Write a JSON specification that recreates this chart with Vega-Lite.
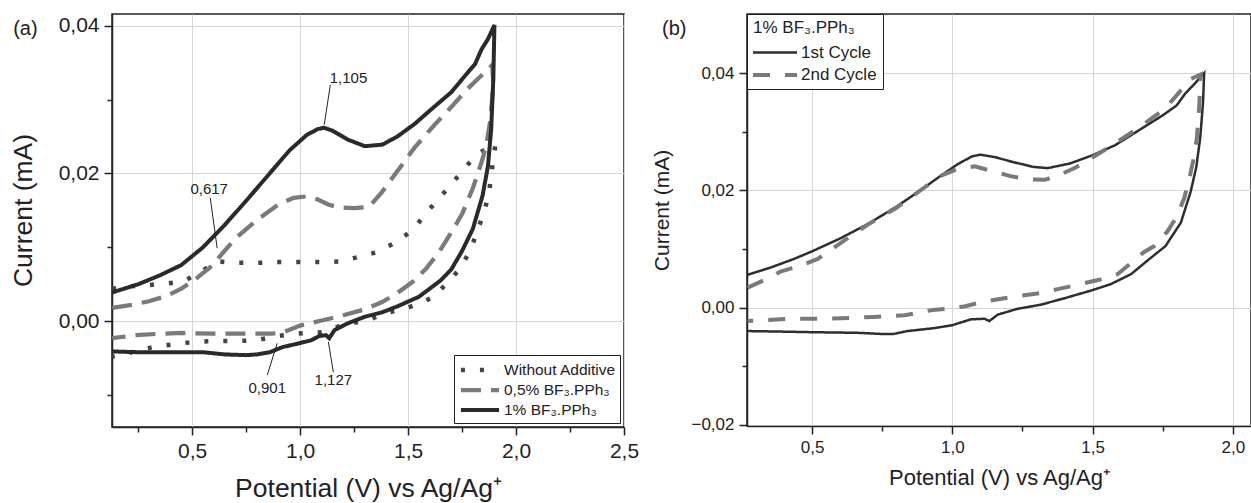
{
  "$schema": "https://vega.github.io/schema/vega-lite/v6.json",
  "padding": {"left": 9, "right": 0, "top": 12, "bottom": 0},
  "spacing": 11,
  "resolve": {
    "scale": {"color": "independent", "strokeDash": "independent", "strokeWidth": "independent"},
    "legend": {"color": "independent", "strokeDash": "independent", "strokeWidth": "independent"}
  },
  "config": {
    "font": "Liberation Sans",
    "view": {"stroke": "#222", "strokeWidth": 1.5},
    "axis": {
      "domainColor": "#222", "domainWidth": 1.5, "tickColor": "#222", "tickWidth": 1.5,
      "gridColor": "#d6d6d6", "gridWidth": 1, "labelColor": "#222", "titleColor": "#222",
      "titleFontWeight": "normal", "labelFlush": false, "labelOverlap": false
    },
    "legend": {"labelFont": "Liberation Sans", "titleFont": "Liberation Sans"}
  },
  "datasets": {
    "a": [
      {"s": "Without Additive", "i": 1, "x": 0.13, "y": 0.0044},
      {"s": "Without Additive", "i": 2, "x": 0.20, "y": 0.0047},
      {"s": "Without Additive", "i": 3, "x": 0.30, "y": 0.0049},
      {"s": "Without Additive", "i": 4, "x": 0.38, "y": 0.0051},
      {"s": "Without Additive", "i": 5, "x": 0.46, "y": 0.0054},
      {"s": "Without Additive", "i": 6, "x": 0.53, "y": 0.0065},
      {"s": "Without Additive", "i": 7, "x": 0.617, "y": 0.0081},
      {"s": "Without Additive", "i": 8, "x": 0.70, "y": 0.0079},
      {"s": "Without Additive", "i": 9, "x": 0.80, "y": 0.0079},
      {"s": "Without Additive", "i": 10, "x": 0.90, "y": 0.0080},
      {"s": "Without Additive", "i": 11, "x": 1.00, "y": 0.0080},
      {"s": "Without Additive", "i": 12, "x": 1.10, "y": 0.0080},
      {"s": "Without Additive", "i": 13, "x": 1.19, "y": 0.0081},
      {"s": "Without Additive", "i": 14, "x": 1.27, "y": 0.0087},
      {"s": "Without Additive", "i": 15, "x": 1.35, "y": 0.0093},
      {"s": "Without Additive", "i": 16, "x": 1.44, "y": 0.0106},
      {"s": "Without Additive", "i": 17, "x": 1.52, "y": 0.0123},
      {"s": "Without Additive", "i": 18, "x": 1.58, "y": 0.0145},
      {"s": "Without Additive", "i": 19, "x": 1.645, "y": 0.0167},
      {"s": "Without Additive", "i": 20, "x": 1.706, "y": 0.0187},
      {"s": "Without Additive", "i": 21, "x": 1.766, "y": 0.0209},
      {"s": "Without Additive", "i": 22, "x": 1.83, "y": 0.0228},
      {"s": "Without Additive", "i": 23, "x": 1.905, "y": 0.0240},
      {"s": "Without Additive", "i": 24, "x": 1.89, "y": 0.0209},
      {"s": "Without Additive", "i": 25, "x": 1.877, "y": 0.0178},
      {"s": "Without Additive", "i": 26, "x": 1.855, "y": 0.0150},
      {"s": "Without Additive", "i": 27, "x": 1.822, "y": 0.0123},
      {"s": "Without Additive", "i": 28, "x": 1.79, "y": 0.0097},
      {"s": "Without Additive", "i": 29, "x": 1.743, "y": 0.0072},
      {"s": "Without Additive", "i": 30, "x": 1.683, "y": 0.0052},
      {"s": "Without Additive", "i": 31, "x": 1.613, "y": 0.0032},
      {"s": "Without Additive", "i": 32, "x": 1.56, "y": 0.0025},
      {"s": "Without Additive", "i": 33, "x": 1.497, "y": 0.0018},
      {"s": "Without Additive", "i": 34, "x": 1.40, "y": 0.0011},
      {"s": "Without Additive", "i": 35, "x": 1.29, "y": -0.0001},
      {"s": "Without Additive", "i": 36, "x": 1.23, "y": -0.0002},
      {"s": "Without Additive", "i": 37, "x": 1.10, "y": -0.0015},
      {"s": "Without Additive", "i": 38, "x": 0.98, "y": -0.0017},
      {"s": "Without Additive", "i": 39, "x": 0.901, "y": -0.0020},
      {"s": "Without Additive", "i": 40, "x": 0.79, "y": -0.0026},
      {"s": "Without Additive", "i": 41, "x": 0.70, "y": -0.0027},
      {"s": "Without Additive", "i": 42, "x": 0.60, "y": -0.0027},
      {"s": "Without Additive", "i": 43, "x": 0.51, "y": -0.0028},
      {"s": "Without Additive", "i": 44, "x": 0.42, "y": -0.0031},
      {"s": "Without Additive", "i": 45, "x": 0.32, "y": -0.0035},
      {"s": "Without Additive", "i": 46, "x": 0.22, "y": -0.0042},
      {"s": "Without Additive", "i": 47, "x": 0.13, "y": -0.0048},

      {"s": "0,5% BF₃.PPh₃", "i": 1, "x": 0.13, "y": 0.0018},
      {"s": "0,5% BF₃.PPh₃", "i": 2, "x": 0.22, "y": 0.0022},
      {"s": "0,5% BF₃.PPh₃", "i": 3, "x": 0.30, "y": 0.0027},
      {"s": "0,5% BF₃.PPh₃", "i": 4, "x": 0.38, "y": 0.0034},
      {"s": "0,5% BF₃.PPh₃", "i": 5, "x": 0.45, "y": 0.0044},
      {"s": "0,5% BF₃.PPh₃", "i": 6, "x": 0.52, "y": 0.0058},
      {"s": "0,5% BF₃.PPh₃", "i": 7, "x": 0.58, "y": 0.0072},
      {"s": "0,5% BF₃.PPh₃", "i": 8, "x": 0.62, "y": 0.0085},
      {"s": "0,5% BF₃.PPh₃", "i": 9, "x": 0.70, "y": 0.0112},
      {"s": "0,5% BF₃.PPh₃", "i": 10, "x": 0.80, "y": 0.0137},
      {"s": "0,5% BF₃.PPh₃", "i": 11, "x": 0.90, "y": 0.0158},
      {"s": "0,5% BF₃.PPh₃", "i": 12, "x": 0.97, "y": 0.0167},
      {"s": "0,5% BF₃.PPh₃", "i": 13, "x": 1.03, "y": 0.0169},
      {"s": "0,5% BF₃.PPh₃", "i": 14, "x": 1.08, "y": 0.0165},
      {"s": "0,5% BF₃.PPh₃", "i": 15, "x": 1.13, "y": 0.0158},
      {"s": "0,5% BF₃.PPh₃", "i": 16, "x": 1.18, "y": 0.0154},
      {"s": "0,5% BF₃.PPh₃", "i": 17, "x": 1.25, "y": 0.0153},
      {"s": "0,5% BF₃.PPh₃", "i": 18, "x": 1.32, "y": 0.0155},
      {"s": "0,5% BF₃.PPh₃", "i": 19, "x": 1.38, "y": 0.0175},
      {"s": "0,5% BF₃.PPh₃", "i": 20, "x": 1.45, "y": 0.0203},
      {"s": "0,5% BF₃.PPh₃", "i": 21, "x": 1.53, "y": 0.0235},
      {"s": "0,5% BF₃.PPh₃", "i": 22, "x": 1.62, "y": 0.0265},
      {"s": "0,5% BF₃.PPh₃", "i": 23, "x": 1.70, "y": 0.0290},
      {"s": "0,5% BF₃.PPh₃", "i": 24, "x": 1.77, "y": 0.0313},
      {"s": "0,5% BF₃.PPh₃", "i": 25, "x": 1.83, "y": 0.0330},
      {"s": "0,5% BF₃.PPh₃", "i": 26, "x": 1.89, "y": 0.0347},
      {"s": "0,5% BF₃.PPh₃", "i": 27, "x": 1.895, "y": 0.0320},
      {"s": "0,5% BF₃.PPh₃", "i": 28, "x": 1.88, "y": 0.0270},
      {"s": "0,5% BF₃.PPh₃", "i": 29, "x": 1.86, "y": 0.0235},
      {"s": "0,5% BF₃.PPh₃", "i": 30, "x": 1.84, "y": 0.0215},
      {"s": "0,5% BF₃.PPh₃", "i": 31, "x": 1.80, "y": 0.0180},
      {"s": "0,5% BF₃.PPh₃", "i": 32, "x": 1.75, "y": 0.0145},
      {"s": "0,5% BF₃.PPh₃", "i": 33, "x": 1.70, "y": 0.0120},
      {"s": "0,5% BF₃.PPh₃", "i": 34, "x": 1.64, "y": 0.0092},
      {"s": "0,5% BF₃.PPh₃", "i": 35, "x": 1.58, "y": 0.0070},
      {"s": "0,5% BF₃.PPh₃", "i": 36, "x": 1.52, "y": 0.0053},
      {"s": "0,5% BF₃.PPh₃", "i": 37, "x": 1.45, "y": 0.0038},
      {"s": "0,5% BF₃.PPh₃", "i": 38, "x": 1.38, "y": 0.0026},
      {"s": "0,5% BF₃.PPh₃", "i": 39, "x": 1.30, "y": 0.0016},
      {"s": "0,5% BF₃.PPh₃", "i": 40, "x": 1.20, "y": 0.0008},
      {"s": "0,5% BF₃.PPh₃", "i": 41, "x": 1.10, "y": 0.0001},
      {"s": "0,5% BF₃.PPh₃", "i": 42, "x": 1.00, "y": -0.0006},
      {"s": "0,5% BF₃.PPh₃", "i": 43, "x": 0.93, "y": -0.0014},
      {"s": "0,5% BF₃.PPh₃", "i": 44, "x": 0.87, "y": -0.0017},
      {"s": "0,5% BF₃.PPh₃", "i": 45, "x": 0.75, "y": -0.0017},
      {"s": "0,5% BF₃.PPh₃", "i": 46, "x": 0.60, "y": -0.0017},
      {"s": "0,5% BF₃.PPh₃", "i": 47, "x": 0.45, "y": -0.0016},
      {"s": "0,5% BF₃.PPh₃", "i": 48, "x": 0.35, "y": -0.0017},
      {"s": "0,5% BF₃.PPh₃", "i": 49, "x": 0.24, "y": -0.0019},
      {"s": "0,5% BF₃.PPh₃", "i": 50, "x": 0.13, "y": -0.0023},

      {"s": "1% BF₃.PPh₃", "i": 1, "x": 0.13, "y": 0.0039},
      {"s": "1% BF₃.PPh₃", "i": 2, "x": 0.25, "y": 0.0050},
      {"s": "1% BF₃.PPh₃", "i": 3, "x": 0.35, "y": 0.0062},
      {"s": "1% BF₃.PPh₃", "i": 4, "x": 0.45, "y": 0.0076},
      {"s": "1% BF₃.PPh₃", "i": 5, "x": 0.55, "y": 0.0100},
      {"s": "1% BF₃.PPh₃", "i": 6, "x": 0.65, "y": 0.0130},
      {"s": "1% BF₃.PPh₃", "i": 7, "x": 0.75, "y": 0.0163},
      {"s": "1% BF₃.PPh₃", "i": 8, "x": 0.85, "y": 0.0197},
      {"s": "1% BF₃.PPh₃", "i": 9, "x": 0.95, "y": 0.0231},
      {"s": "1% BF₃.PPh₃", "i": 10, "x": 1.03, "y": 0.0252},
      {"s": "1% BF₃.PPh₃", "i": 11, "x": 1.08, "y": 0.0260},
      {"s": "1% BF₃.PPh₃", "i": 12, "x": 1.11, "y": 0.0262},
      {"s": "1% BF₃.PPh₃", "i": 13, "x": 1.15, "y": 0.0258},
      {"s": "1% BF₃.PPh₃", "i": 14, "x": 1.22, "y": 0.0246},
      {"s": "1% BF₃.PPh₃", "i": 15, "x": 1.30, "y": 0.0237},
      {"s": "1% BF₃.PPh₃", "i": 16, "x": 1.38, "y": 0.0239},
      {"s": "1% BF₃.PPh₃", "i": 17, "x": 1.45, "y": 0.0250},
      {"s": "1% BF₃.PPh₃", "i": 18, "x": 1.53, "y": 0.0267},
      {"s": "1% BF₃.PPh₃", "i": 19, "x": 1.60, "y": 0.0285},
      {"s": "1% BF₃.PPh₃", "i": 20, "x": 1.70, "y": 0.0310},
      {"s": "1% BF₃.PPh₃", "i": 21, "x": 1.78, "y": 0.0338},
      {"s": "1% BF₃.PPh₃", "i": 22, "x": 1.81, "y": 0.0348},
      {"s": "1% BF₃.PPh₃", "i": 23, "x": 1.84, "y": 0.0368},
      {"s": "1% BF₃.PPh₃", "i": 24, "x": 1.87, "y": 0.0382},
      {"s": "1% BF₃.PPh₃", "i": 25, "x": 1.90, "y": 0.0401},
      {"s": "1% BF₃.PPh₃", "i": 26, "x": 1.895, "y": 0.0330},
      {"s": "1% BF₃.PPh₃", "i": 27, "x": 1.885, "y": 0.0260},
      {"s": "1% BF₃.PPh₃", "i": 28, "x": 1.87, "y": 0.0210},
      {"s": "1% BF₃.PPh₃", "i": 29, "x": 1.845, "y": 0.0170},
      {"s": "1% BF₃.PPh₃", "i": 30, "x": 1.80, "y": 0.0125},
      {"s": "1% BF₃.PPh₃", "i": 31, "x": 1.75, "y": 0.0095},
      {"s": "1% BF₃.PPh₃", "i": 32, "x": 1.70, "y": 0.0070},
      {"s": "1% BF₃.PPh₃", "i": 33, "x": 1.65, "y": 0.0055},
      {"s": "1% BF₃.PPh₃", "i": 34, "x": 1.55, "y": 0.0033},
      {"s": "1% BF₃.PPh₃", "i": 35, "x": 1.45, "y": 0.0020},
      {"s": "1% BF₃.PPh₃", "i": 36, "x": 1.38, "y": 0.0012},
      {"s": "1% BF₃.PPh₃", "i": 37, "x": 1.30, "y": 0.0006},
      {"s": "1% BF₃.PPh₃", "i": 38, "x": 1.22, "y": -0.0003},
      {"s": "1% BF₃.PPh₃", "i": 39, "x": 1.16, "y": -0.0012},
      {"s": "1% BF₃.PPh₃", "i": 40, "x": 1.135, "y": -0.0023},
      {"s": "1% BF₃.PPh₃", "i": 41, "x": 1.12, "y": -0.0019},
      {"s": "1% BF₃.PPh₃", "i": 42, "x": 1.09, "y": -0.0020},
      {"s": "1% BF₃.PPh₃", "i": 43, "x": 1.05, "y": -0.0026},
      {"s": "1% BF₃.PPh₃", "i": 44, "x": 0.98, "y": -0.0031},
      {"s": "1% BF₃.PPh₃", "i": 45, "x": 0.92, "y": -0.0035},
      {"s": "1% BF₃.PPh₃", "i": 46, "x": 0.86, "y": -0.0042},
      {"s": "1% BF₃.PPh₃", "i": 47, "x": 0.80, "y": -0.0045},
      {"s": "1% BF₃.PPh₃", "i": 48, "x": 0.75, "y": -0.0046},
      {"s": "1% BF₃.PPh₃", "i": 49, "x": 0.65, "y": -0.0045},
      {"s": "1% BF₃.PPh₃", "i": 50, "x": 0.55, "y": -0.0042},
      {"s": "1% BF₃.PPh₃", "i": 51, "x": 0.45, "y": -0.0042},
      {"s": "1% BF₃.PPh₃", "i": 52, "x": 0.35, "y": -0.0042},
      {"s": "1% BF₃.PPh₃", "i": 53, "x": 0.25, "y": -0.0042},
      {"s": "1% BF₃.PPh₃", "i": 54, "x": 0.13, "y": -0.0041}
    ],
    "notes": [
      {"label": "1,105", "x": 1.224, "y": 0.0330, "x1": 1.112, "y1": 0.0266, "x2": 1.140, "y2": 0.0320},
      {"label": "0,617", "x": 0.579, "y": 0.0179, "x1": 0.616, "y1": 0.0099, "x2": 0.584, "y2": 0.0167},
      {"label": "0,901", "x": 0.848, "y": -0.0090, "x1": 0.894, "y1": -0.0030, "x2": 0.848, "y2": -0.0073},
      {"label": "1,127", "x": 1.154, "y": -0.0080, "x1": 1.131, "y1": -0.0028, "x2": 1.154, "y2": -0.0069}
    ],
    "b": [
      {"s": "1st Cycle", "i": 1, "x": 0.27, "y": 0.0056},
      {"s": "1st Cycle", "i": 2, "x": 0.35, "y": 0.0068},
      {"s": "1st Cycle", "i": 3, "x": 0.43, "y": 0.0082},
      {"s": "1st Cycle", "i": 4, "x": 0.50, "y": 0.0096},
      {"s": "1st Cycle", "i": 5, "x": 0.60, "y": 0.0118},
      {"s": "1st Cycle", "i": 6, "x": 0.70, "y": 0.0143},
      {"s": "1st Cycle", "i": 7, "x": 0.80, "y": 0.0172},
      {"s": "1st Cycle", "i": 8, "x": 0.88, "y": 0.0198},
      {"s": "1st Cycle", "i": 9, "x": 0.95, "y": 0.0222},
      {"s": "1st Cycle", "i": 10, "x": 1.02, "y": 0.0245},
      {"s": "1st Cycle", "i": 11, "x": 1.07, "y": 0.0258},
      {"s": "1st Cycle", "i": 12, "x": 1.10, "y": 0.0261},
      {"s": "1st Cycle", "i": 13, "x": 1.15, "y": 0.0257},
      {"s": "1st Cycle", "i": 14, "x": 1.22, "y": 0.0248},
      {"s": "1st Cycle", "i": 15, "x": 1.29, "y": 0.0240},
      {"s": "1st Cycle", "i": 16, "x": 1.34, "y": 0.0238},
      {"s": "1st Cycle", "i": 17, "x": 1.42, "y": 0.0246},
      {"s": "1st Cycle", "i": 18, "x": 1.50, "y": 0.0260},
      {"s": "1st Cycle", "i": 19, "x": 1.58, "y": 0.0277},
      {"s": "1st Cycle", "i": 20, "x": 1.65, "y": 0.0298},
      {"s": "1st Cycle", "i": 21, "x": 1.75, "y": 0.0328},
      {"s": "1st Cycle", "i": 22, "x": 1.80, "y": 0.0345},
      {"s": "1st Cycle", "i": 23, "x": 1.83, "y": 0.0365},
      {"s": "1st Cycle", "i": 24, "x": 1.86, "y": 0.0380},
      {"s": "1st Cycle", "i": 25, "x": 1.898, "y": 0.0400},
      {"s": "1st Cycle", "i": 26, "x": 1.894, "y": 0.0350},
      {"s": "1st Cycle", "i": 27, "x": 1.884, "y": 0.0290},
      {"s": "1st Cycle", "i": 28, "x": 1.87, "y": 0.0240},
      {"s": "1st Cycle", "i": 29, "x": 1.85, "y": 0.0198},
      {"s": "1st Cycle", "i": 30, "x": 1.815, "y": 0.0145},
      {"s": "1st Cycle", "i": 31, "x": 1.76, "y": 0.0105},
      {"s": "1st Cycle", "i": 32, "x": 1.708, "y": 0.0085},
      {"s": "1st Cycle", "i": 33, "x": 1.637, "y": 0.0057},
      {"s": "1st Cycle", "i": 34, "x": 1.565, "y": 0.0040},
      {"s": "1st Cycle", "i": 35, "x": 1.494, "y": 0.0029},
      {"s": "1st Cycle", "i": 36, "x": 1.40, "y": 0.0016},
      {"s": "1st Cycle", "i": 37, "x": 1.316, "y": 0.0005},
      {"s": "1st Cycle", "i": 38, "x": 1.233, "y": -0.0002},
      {"s": "1st Cycle", "i": 39, "x": 1.162, "y": -0.0012},
      {"s": "1st Cycle", "i": 40, "x": 1.132, "y": -0.0023},
      {"s": "1st Cycle", "i": 41, "x": 1.115, "y": -0.0019},
      {"s": "1st Cycle", "i": 42, "x": 1.066, "y": -0.0020},
      {"s": "1st Cycle", "i": 43, "x": 1.00, "y": -0.0030},
      {"s": "1st Cycle", "i": 44, "x": 0.936, "y": -0.0035},
      {"s": "1st Cycle", "i": 45, "x": 0.84, "y": -0.0040},
      {"s": "1st Cycle", "i": 46, "x": 0.79, "y": -0.0045},
      {"s": "1st Cycle", "i": 47, "x": 0.75, "y": -0.0045},
      {"s": "1st Cycle", "i": 48, "x": 0.663, "y": -0.0043},
      {"s": "1st Cycle", "i": 49, "x": 0.508, "y": -0.0042},
      {"s": "1st Cycle", "i": 50, "x": 0.40, "y": -0.0041},
      {"s": "1st Cycle", "i": 51, "x": 0.27, "y": -0.0040},

      {"s": "2nd Cycle", "i": 1, "x": 0.27, "y": 0.0034},
      {"s": "2nd Cycle", "i": 2, "x": 0.33, "y": 0.0047},
      {"s": "2nd Cycle", "i": 3, "x": 0.39, "y": 0.0062},
      {"s": "2nd Cycle", "i": 4, "x": 0.45, "y": 0.0070},
      {"s": "2nd Cycle", "i": 5, "x": 0.52, "y": 0.0083},
      {"s": "2nd Cycle", "i": 6, "x": 0.61, "y": 0.0113},
      {"s": "2nd Cycle", "i": 7, "x": 0.70, "y": 0.0142},
      {"s": "2nd Cycle", "i": 8, "x": 0.80, "y": 0.0170},
      {"s": "2nd Cycle", "i": 9, "x": 0.88, "y": 0.0198},
      {"s": "2nd Cycle", "i": 10, "x": 0.96, "y": 0.0225},
      {"s": "2nd Cycle", "i": 11, "x": 1.02, "y": 0.0237},
      {"s": "2nd Cycle", "i": 12, "x": 1.08, "y": 0.0241},
      {"s": "2nd Cycle", "i": 13, "x": 1.15, "y": 0.0232},
      {"s": "2nd Cycle", "i": 14, "x": 1.21, "y": 0.0224},
      {"s": "2nd Cycle", "i": 15, "x": 1.27, "y": 0.0219},
      {"s": "2nd Cycle", "i": 16, "x": 1.33, "y": 0.0218},
      {"s": "2nd Cycle", "i": 17, "x": 1.38, "y": 0.0226},
      {"s": "2nd Cycle", "i": 18, "x": 1.44, "y": 0.0239},
      {"s": "2nd Cycle", "i": 19, "x": 1.54, "y": 0.0268},
      {"s": "2nd Cycle", "i": 20, "x": 1.66, "y": 0.0305},
      {"s": "2nd Cycle", "i": 21, "x": 1.76, "y": 0.0340},
      {"s": "2nd Cycle", "i": 22, "x": 1.81, "y": 0.0368},
      {"s": "2nd Cycle", "i": 23, "x": 1.85, "y": 0.0390},
      {"s": "2nd Cycle", "i": 24, "x": 1.886, "y": 0.0398},
      {"s": "2nd Cycle", "i": 25, "x": 1.880, "y": 0.0340},
      {"s": "2nd Cycle", "i": 26, "x": 1.872, "y": 0.0290},
      {"s": "2nd Cycle", "i": 27, "x": 1.863, "y": 0.0260},
      {"s": "2nd Cycle", "i": 28, "x": 1.845, "y": 0.0220},
      {"s": "2nd Cycle", "i": 29, "x": 1.827, "y": 0.0187},
      {"s": "2nd Cycle", "i": 30, "x": 1.80, "y": 0.0155},
      {"s": "2nd Cycle", "i": 31, "x": 1.767, "y": 0.0130},
      {"s": "2nd Cycle", "i": 32, "x": 1.72, "y": 0.0105},
      {"s": "2nd Cycle", "i": 33, "x": 1.684, "y": 0.0095},
      {"s": "2nd Cycle", "i": 34, "x": 1.63, "y": 0.0073},
      {"s": "2nd Cycle", "i": 35, "x": 1.589, "y": 0.0057},
      {"s": "2nd Cycle", "i": 36, "x": 1.52, "y": 0.0047},
      {"s": "2nd Cycle", "i": 37, "x": 1.447, "y": 0.0039},
      {"s": "2nd Cycle", "i": 38, "x": 1.38, "y": 0.0032},
      {"s": "2nd Cycle", "i": 39, "x": 1.316, "y": 0.0025},
      {"s": "2nd Cycle", "i": 40, "x": 1.197, "y": 0.0017},
      {"s": "2nd Cycle", "i": 41, "x": 1.10, "y": 0.0009},
      {"s": "2nd Cycle", "i": 42, "x": 1.043, "y": 0.0002},
      {"s": "2nd Cycle", "i": 43, "x": 0.98, "y": -0.0002},
      {"s": "2nd Cycle", "i": 44, "x": 0.93, "y": -0.0004},
      {"s": "2nd Cycle", "i": 45, "x": 0.83, "y": -0.0013},
      {"s": "2nd Cycle", "i": 46, "x": 0.72, "y": -0.0016},
      {"s": "2nd Cycle", "i": 47, "x": 0.556, "y": -0.0019},
      {"s": "2nd Cycle", "i": 48, "x": 0.425, "y": -0.0019},
      {"s": "2nd Cycle", "i": 49, "x": 0.27, "y": -0.0023}
    ]
  },
  "hconcat": [
    {
      "width": 512,
      "height": 413,
      "title": {"text": "(a)", "anchor": "start", "frame": "bounds", "offset": -25, "dx": 3, "fontSize": 20, "fontWeight": "normal", "color": "#222", "font": "Liberation Sans"},
      "layer": [
        {
          "data": {"name": "a"},
          "mark": {"type": "line", "clip": true},
          "encoding": {
            "x": {
              "field": "x", "type": "quantitative",
              "scale": {"domain": [0.129, 2.5], "nice": false, "zero": false},
              "axis": {
                "title": "Potential (V) vs Ag/Ag⁺", "titleFontSize": 26.5, "titlePadding": 14,
                "labelFontSize": 21, "labelPadding": 5,
                "values": [0.25, 0.5, 0.75, 1, 1.25, 1.5, 1.75, 2, 2.25, 2.5],
                "labelExpr": "round(datum.value*100) % 50 == 0 ? replace(format(datum.value, '.1f'), '.', ',') : ''",
                "tickSize": {"condition": {"test": "round(datum.value*100) % 50 != 0", "value": 5}, "value": 8},
                "gridOpacity": {"condition": {"test": "round(datum.value*100) % 50 != 0", "value": 0}, "value": 1}
              }
            },
            "y": {
              "field": "y", "type": "quantitative",
              "scale": {"domain": [-0.01433, 0.0416], "nice": false, "zero": false},
              "axis": {
                "title": "Current (mA)", "titleFontSize": 26.5, "titlePadding": 21, "titleY": 196,
                "labelFontSize": 21, "labelPadding": 5,
                "values": [-0.01, 0, 0.01, 0.02, 0.03, 0.04],
                "labelExpr": "round(datum.value*1000) % 20 == 0 ? replace(format(datum.value, '.2f'), '.', ',') : ''",
                "tickSize": {"condition": {"test": "round(datum.value*1000) % 20 != 0", "value": 5}, "value": 8},
                "gridOpacity": {"condition": {"test": "round(datum.value*1000) % 20 != 0", "value": 0}, "value": 1}
              }
            },
            "order": {"field": "i", "type": "quantitative"},
            "color": {
              "field": "s", "type": "nominal",
              "scale": {"domain": ["Without Additive", "0,5% BF₃.PPh₃", "1% BF₃.PPh₃"], "range": ["#444444", "#7a7a7a", "#2a2a2a"]},
              "legend": {
                "title": null, "orient": "bottom-right", "offset": 4, "symbolType": "M-2.2,0H2.2", "symbolSize": 300,
                "symbolOffset": 11, "labelOffset": 13,
                "labelFontSize": 15.5, "labelColor": "#222", "strokeColor": "#222", "fillColor": "white",
                "padding": 4, "rowPadding": 0
              }
            },
            "strokeDash": {
              "field": "s", "type": "nominal",
              "scale": {"domain": ["Without Additive", "0,5% BF₃.PPh₃", "1% BF₃.PPh₃"], "range": [[4, 15], [20, 10], [1, 0]]},
              "legend": {
                "title": null, "orient": "bottom-right", "offset": 4, "symbolType": "M-2.2,0H2.2", "symbolSize": 300,
                "symbolOffset": 11, "labelOffset": 13,
                "labelFontSize": 15.5, "labelColor": "#222", "strokeColor": "#222", "fillColor": "white",
                "padding": 4, "rowPadding": 0
              }
            },
            "strokeWidth": {
              "field": "s", "type": "nominal",
              "scale": {"domain": ["Without Additive", "0,5% BF₃.PPh₃", "1% BF₃.PPh₃"], "range": [4.5, 4, 3.5]},
              "legend": {
                "title": null, "orient": "bottom-right", "offset": 4, "symbolType": "M-2.2,0H2.2", "symbolSize": 300,
                "symbolOffset": 11, "labelOffset": 13,
                "labelFontSize": 15.5, "labelColor": "#222", "strokeColor": "#222", "fillColor": "white",
                "padding": 4, "rowPadding": 0
              }
            }
          }
        },
        {
          "data": {"name": "notes"},
          "mark": {"type": "rule", "color": "#222", "strokeWidth": 1},
          "encoding": {
            "x": {"field": "x1", "type": "quantitative"},
            "y": {"field": "y1", "type": "quantitative"},
            "x2": {"field": "x2"},
            "y2": {"field": "y2"}
          }
        },
        {
          "data": {"name": "notes"},
          "mark": {"type": "text", "fontSize": 15, "color": "#222", "font": "Liberation Sans"},
          "encoding": {
            "x": {"field": "x", "type": "quantitative"},
            "y": {"field": "y", "type": "quantitative"},
            "text": {"field": "label"}
          }
        }
      ]
    },
    {
      "width": 504,
      "height": 412,
      "title": {"text": "(b)", "anchor": "start", "frame": "bounds", "offset": -25, "dx": 10, "fontSize": 20, "fontWeight": "normal", "color": "#222", "font": "Liberation Sans"},
      "data": {"name": "b"},
      "mark": {"type": "line", "clip": true},
      "encoding": {
        "x": {
          "field": "x", "type": "quantitative",
          "scale": {"domain": [0.268, 2.065], "nice": false, "zero": false},
          "axis": {
            "title": "Potential (V) vs Ag/Ag⁺", "titleFontSize": 22, "titlePadding": 12,
            "labelFontSize": 17, "labelPadding": 5,
            "values": [0.5, 0.75, 1, 1.25, 1.5, 1.75, 2],
            "labelExpr": "round(datum.value*100) % 50 == 0 ? replace(format(datum.value, '.1f'), '.', ',') : ''",
            "tickSize": {"condition": {"test": "round(datum.value*100) % 50 != 0", "value": 5}, "value": 8},
            "gridOpacity": {"condition": {"test": "round(datum.value*100) % 50 != 0", "value": 0}, "value": 1}
          }
        },
        "y": {
          "field": "y", "type": "quantitative",
          "scale": {"domain": [-0.0202, 0.0501], "nice": false, "zero": false},
          "axis": {
            "title": "Current (mA)", "titleFontSize": 21, "titlePadding": 18, "titleY": 196,
            "labelFontSize": 17, "labelPadding": 5,
            "values": [-0.02, -0.01, 0, 0.01, 0.02, 0.03, 0.04],
            "labelExpr": "round(datum.value*1000) % 20 == 0 ? replace(format(datum.value, '.2f'), '.', ',') : ''",
            "tickSize": {"condition": {"test": "round(datum.value*1000) % 20 != 0", "value": 5}, "value": 8},
            "gridOpacity": {"condition": {"test": "round(datum.value*1000) % 20 != 0", "value": 0}, "value": 1}
          }
        },
        "order": {"field": "i", "type": "quantitative"},
        "color": {
          "field": "s", "type": "nominal",
          "scale": {"domain": ["1st Cycle", "2nd Cycle"], "range": ["#2e2e2e", "#7a7a7a"]},
          "legend": {
            "title": "1% BF₃.PPh₃", "titleFontSize": 17, "titleFontWeight": "normal", "titleColor": "#222",
            "orient": "top-left", "offset": 0, "symbolType": "M-2.2,0H2.2", "symbolSize": 400,
            "symbolOffset": 10, "labelOffset": 14,
            "labelFontSize": 17, "labelColor": "#222", "strokeColor": "#222", "fillColor": "white",
            "padding": 6, "rowPadding": 2, "titlePadding": 4
          }
        },
        "strokeDash": {
          "field": "s", "type": "nominal",
          "scale": {"domain": ["1st Cycle", "2nd Cycle"], "range": [[1, 0], [17, 15]]},
          "legend": {
            "title": "1% BF₃.PPh₃", "titleFontSize": 17, "titleFontWeight": "normal", "titleColor": "#222",
            "orient": "top-left", "offset": 0, "symbolType": "M-2.2,0H2.2", "symbolSize": 400,
            "symbolOffset": 10, "labelOffset": 14,
            "labelFontSize": 17, "labelColor": "#222", "strokeColor": "#222", "fillColor": "white",
            "padding": 6, "rowPadding": 2, "titlePadding": 4
          }
        },
        "strokeWidth": {
          "field": "s", "type": "nominal",
          "scale": {"domain": ["1st Cycle", "2nd Cycle"], "range": [2.5, 4]},
          "legend": {
            "title": "1% BF₃.PPh₃", "titleFontSize": 17, "titleFontWeight": "normal", "titleColor": "#222",
            "orient": "top-left", "offset": 0, "symbolType": "M-2.2,0H2.2", "symbolSize": 400,
            "symbolOffset": 10, "labelOffset": 14,
            "labelFontSize": 17, "labelColor": "#222", "strokeColor": "#222", "fillColor": "white",
            "padding": 6, "rowPadding": 2, "titlePadding": 4
          }
        }
      }
    }
  ]
}
